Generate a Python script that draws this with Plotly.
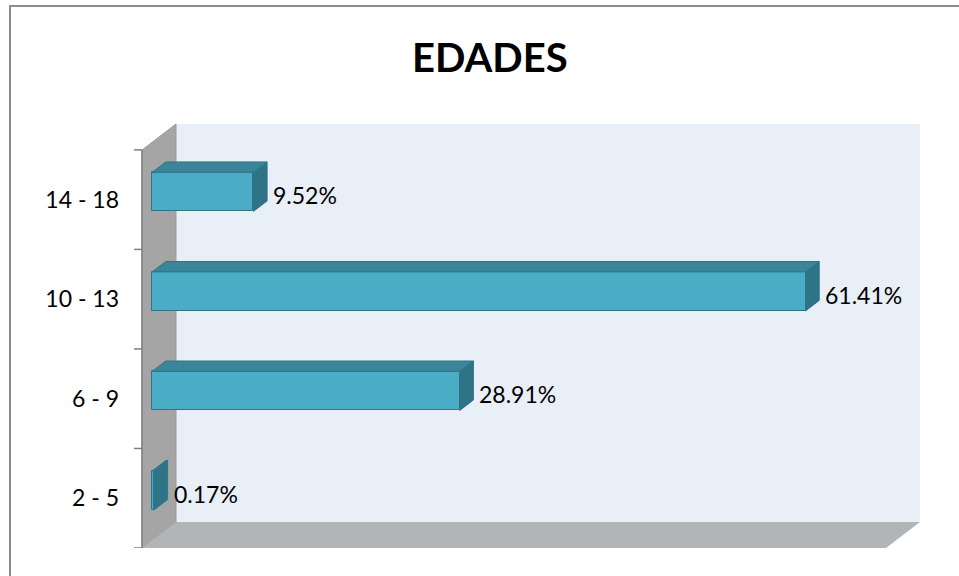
import plotly.graph_objects as go

# ---- data ----
categories = ["2 - 5", "6 - 9", "10 - 13", "14 - 18"]
values = [0.17, 28.91, 61.41, 9.52]
value_labels = ["0.17%", "28.91%", "61.41%", "9.52%"]
title_text = "EDADES"

# ---- geometry (pixels) ----
W, H = 959, 576
L, R, T, B = 142, 920, 124, 548
PX_PER_PCT = 10.64
Y_RANGE = [-0.5, 3.76]
PX_PER_CAT = (B - T) / (Y_RANGE[1] - Y_RANGE[0])
DEPTH_X, DEPTH_Y = 34, 26
X_RANGE = [0, (R - L) / PX_PER_PCT]

def px(x):
    return (x - L) / (R - L)

def py(y):
    return (B - y) / (B - T)

dzx = DEPTH_X / PX_PER_PCT
dzy = DEPTH_Y / PX_PER_CAT
z0, z1 = 0.3, 0.7
half_h = 0.196

FRONT = "#4BACC6"
TOP = "#3A8599"
SIDE = "#2F7386"
EDGE = "#2E7488"
FONT = "Lato, 'Open Sans', sans-serif"

pos = list(range(len(categories)))
centers = [p + z0 * dzy for p in pos]

fig = go.Figure()

fig.add_trace(go.Bar(
    orientation="h", y=centers, x=values, base=[z0 * dzx] * len(values),
    width=2 * half_h, marker=dict(color=FRONT, line=dict(color=EDGE, width=1)),
    hoverinfo="skip", showlegend=False))

tx, ty, sx, sy = [], [], [], []
dy = (z1 - z0) * dzy
for c, v in zip(centers, values):
    a0, a1 = z0 * dzx, z1 * dzx
    tx += [a0, a0 + v, a1 + v, a1, a0, None]
    ty += [c + half_h, c + half_h, c + half_h + dy, c + half_h + dy, c + half_h, None]
    sx += [a0 + v, a0 + v, a1 + v, a1 + v, a0 + v, None]
    sy += [c - half_h, c + half_h, c + half_h + dy, c - half_h + dy, c - half_h, None]
fig.add_trace(go.Scatter(x=tx, y=ty, mode="lines", fill="toself", fillcolor=TOP,
                         line=dict(color=EDGE, width=1), hoverinfo="skip", showlegend=False))
fig.add_trace(go.Scatter(x=sx, y=sy, mode="lines", fill="toself", fillcolor=SIDE,
                         line=dict(color=EDGE, width=1), hoverinfo="skip", showlegend=False))

for p, v, lab in zip(pos, values, value_labels):
    fig.add_annotation(x=v + z1 * dzx, y=p + 0.045, text=lab, showarrow=False,
                       xanchor="left", yanchor="middle", xshift=4,
                       font=dict(family=FONT, size=23, color="#000000"))

shapes = []
shapes.append(dict(type="rect", xref="paper", yref="paper",
                   x0=px(L + DEPTH_X), x1=px(R), y0=py(B - DEPTH_Y), y1=py(T),
                   fillcolor="#E9EFF6", line=dict(width=0), layer="below"))
shapes.append(dict(type="path", xref="paper", yref="paper",
                   path=f"M {px(L)},{py(T + DEPTH_Y)} L {px(L + DEPTH_X)},{py(T)} "
                        f"L {px(L + DEPTH_X)},{py(B - DEPTH_Y)} L {px(L)},{py(B)} Z",
                   fillcolor="#A5A5A5", line=dict(color="#9A9A9A", width=1), layer="below"))
shapes.append(dict(type="path", xref="paper", yref="paper",
                   path=f"M {px(L)},{py(B)} L {px(L + DEPTH_X)},{py(B - DEPTH_Y)} "
                        f"L {px(R)},{py(B - DEPTH_Y)} L {px(R - DEPTH_X)},{py(B)} Z",
                   fillcolor="#B1B5B8", line=dict(width=0), layer="below"))
shapes.append(dict(type="line", xref="paper", yref="y", x0=0, x1=0,
                   y0=-0.5, y1=len(categories) - 0.5, line=dict(color="#7F7F7F", width=1.5)))
for k in range(len(categories) + 1):
    shapes.append(dict(type="line", xref="paper", yref="y", x0=px(L - 8), x1=0,
                       y0=k - 0.5, y1=k - 0.5, line=dict(color="#7F7F7F", width=1.5)))
shapes.append(dict(type="rect", xref="paper", yref="paper",
                   x0=px(10), x1=px(1000), y0=py(6), y1=py(640),
                   fillcolor="rgba(0,0,0,0)", line=dict(color="#8C8C8C", width=2)))

fig.add_annotation(xref="paper", yref="paper", x=px(490), y=py(57), text=f"<b>{title_text}</b>",
                   showarrow=False, xanchor="center", yanchor="middle",
                   font=dict(family=FONT, size=40, color="#000000"))

fig.update_layout(
    width=W, height=H,
    margin=dict(l=L, r=W - R, t=T, b=H - B, autoexpand=False),
    paper_bgcolor="white", plot_bgcolor="rgba(0,0,0,0)",
    shapes=shapes, bargap=0,
    xaxis=dict(range=X_RANGE, showgrid=False, zeroline=False, showticklabels=False,
               showline=False, fixedrange=True),
    yaxis=dict(range=Y_RANGE, tickvals=pos, ticktext=categories, showgrid=False,
               zeroline=False, showline=False, ticks="", ticklabelstandoff=22,
               tickfont=dict(family=FONT, size=23, color="#000000"), fixedrange=True),
    font=dict(family=FONT),
)

fig.write_html("out.html", config={"displayModeBar": False},
               post_script="document.body.style.margin='0';document.body.style.overflow='hidden';")
